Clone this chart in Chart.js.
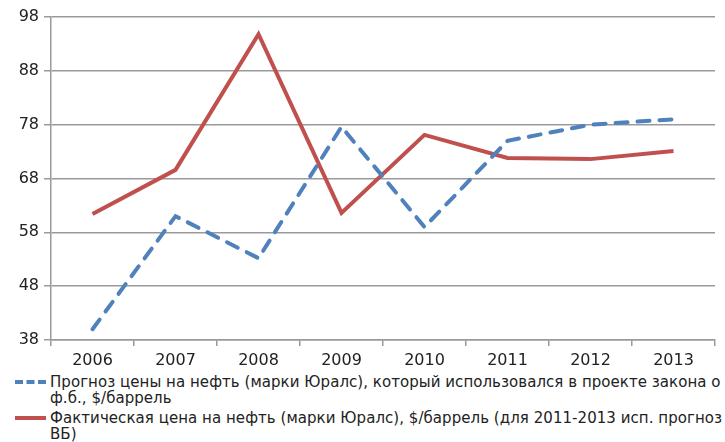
<!DOCTYPE html>
<html>
<head>
<meta charset="utf-8">
<script src="https://cdn.jsdelivr.net/npm/chart.js@4"></script>
<style>
  body { margin: 0; background: #fff; width: 725px; height: 442px; overflow: hidden; position: relative; font-family: "DejaVu Sans", sans-serif; }
  #wrap { position: absolute; left: 0; top: 0; width: 725px; height: 372px; }
  .leg { position: absolute; left: 0; width: 725px; overflow: hidden; white-space: nowrap; font-size: 15px; color: #222; letter-spacing: 0.05px; }
  .leg .sym { position: absolute; left: 15px; width: 31px; height: 0; }
  .leg .txt { position: absolute; left: 50px; line-height: 16px; }
</style>
</head>
<body>
<div id="wrap"><canvas id="chart" width="725" height="372"></canvas></div>
<div class="leg" style="top:374px;height:36px;">
  <div class="sym" style="top:6px;border-top:4px dashed #4f81bd;"></div>
  <div class="txt" style="top:0;">Прогноз цены на нефть (марки Юралс), который использовался в проекте закона о<br>ф.б., $/баррель</div>
</div>
<div class="leg" style="top:410px;height:32px;">
  <div class="sym" style="top:6px;border-top:4px solid #c0504d;"></div>
  <div class="txt" style="top:0;">Фактическая цена на нефть (марки Юралс), $/баррель (для 2011-2013 исп. прогноз<br>ВБ)</div>
</div>
<script>
// Data
const years = ['2006', '2007', '2008', '2009', '2010', '2011', '2012', '2013'];
const forecastPrice = [40, 61, 53.2, 77.6, 59, 75, 78, 79];
const actualPrice = [61.4, 69.6, 94.8, 61.6, 76.1, 71.8, 71.6, 73.1];
const yTicks = [38, 48, 58, 68, 78, 88, 98];

const ctx = document.getElementById('chart').getContext('2d');
const tickFont = { family: '"DejaVu Sans", sans-serif', size: 16 };

new Chart(ctx, {
    type: 'line',
    data: {
        labels: years,
        datasets: [{
            label: 'Прогноз цены на нефть (марки Юралс), который использовался в проекте закона о ф.б., $/баррель',
            data: forecastPrice,
            borderColor: '#4f81bd',
            borderWidth: 4,
            borderDash: [12, 10],
            borderCapStyle: 'round',
            pointRadius: 0,
            tension: 0
        }, {
            label: 'Фактическая цена на нефть (марки Юралс), $/баррель (для 2011-2013 исп. прогноз ВБ)',
            data: actualPrice,
            borderColor: '#c0504d',
            borderWidth: 4,
            pointRadius: 0,
            tension: 0
        }]
    },
    options: {
        responsive: false,
        animation: false,
        layout: { padding: { top: 17, right: 10, left: 0, bottom: 0 } },
        plugins: { legend: { display: false }, tooltip: { enabled: false } },
        scales: {
            x: {
                offset: true,
                grid: { offset: true, drawOnChartArea: false, color: '#9a9a9a', lineWidth: 1.5, tickLength: 6 },
                border: { color: '#9a9a9a', width: 1.5 },
                ticks: { color: '#222', font: tickFont, padding: 5 },
                afterFit: s => { s.height = 32; }
            },
            y: {
                min: 38,
                max: 98,
                afterBuildTicks: s => { s.ticks = yTicks.map(v => ({ value: v })); },
                grid: { color: '#9a9a9a', lineWidth: 1.5, tickLength: 7 },
                border: { color: '#9a9a9a', width: 1.5 },
                ticks: { color: '#222', font: tickFont, padding: 5 },
                afterFit: s => { s.width = 51; }
            }
        }
    }
});
</script>
</body>
</html>
